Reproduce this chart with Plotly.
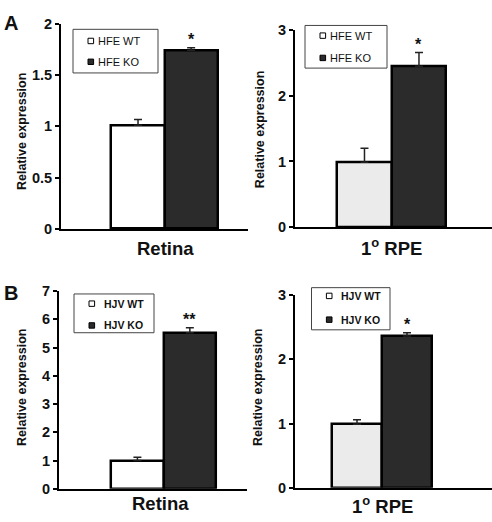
import plotly.graph_objects as go

# ---- data ----
groups = ["WT", "KO"]
hfe_retina_mean = [1.01, 1.74]
hfe_retina_err = [0.055, 0.025]
hfe_rpe_mean = [0.99, 2.45]
hfe_rpe_err = [0.21, 0.21]
hjv_retina_mean = [1.0, 5.52]
hjv_retina_err = [0.12, 0.18]
hjv_rpe_mean = [0.99, 2.36]
hjv_rpe_err = [0.07, 0.05]

hfe_labels = ["HFE WT", "HFE KO"]
hjv_labels = ["HJV WT", "HJV KO"]
sig_hfe_retina = "*"
sig_hfe_rpe = "*"
sig_hjv_retina = "**"
sig_hjv_rpe = "*"
tissue_retina = "Retina"
tissue_rpe = "1<sup>o</sup> RPE"
ytitle = "Relative expression"

W, H = 492, 522
FONT = "Arial, Liberation Sans, sans-serif"
KO_COLOR = "#2b2b2b"
TXT = "#111111"


def b(t):
    return "<b>" + t + "</b>"


def px(x):
    return x / W


def py(y):
    return 1 - y / H


panels = [
    dict(mean=hfe_retina_mean, err=hfe_retina_err, labels=hfe_labels, sig=sig_hfe_retina,
         wt="#ffffff", ax="", xdom=[0.124, 0.504], ydom=[0.5632, 0.9693],
         xr=[-1.45, 2.07], yr=[0, 2], tickvals=[0, 0.5, 1, 1.5, 2],
         ticktext=["0", "0.5", "1", "1.5", "2"],
         leg=dict(box=(73, 22, 158, 67), sq=90.8, tx=96, iy=(34, 55.5), size=11), legbold=False,
         tissue=tissue_retina, tpos=(165, 248), ypos=(22, 128)),
    dict(mean=hfe_rpe_mean, err=hfe_rpe_err, labels=hfe_labels, sig=sig_hfe_rpe,
         wt="#ebebeb", ax="2", xdom=[0.5996, 1.0], ydom=[0.567, 0.956],
         xr=[-1.275, 2.34], yr=[0, 3], tickvals=[0, 1, 2, 3],
         ticktext=["0", "1", "2", "3"],
         leg=dict(box=(305, 18, 387, 62), sq=322.8, tx=327.5, iy=(28.5, 51.5), size=11), legbold=False,
         tissue=tissue_rpe, tpos=(391, 247), ypos=(260, 126)),
    dict(mean=hjv_retina_mean, err=hjv_retina_err, labels=hjv_labels, sig=sig_hjv_retina,
         wt="#ffffff", ax="3", xdom=[0.120, 0.502], ydom=[0.0498, 0.4406],
         xr=[-1.495, 2.09], yr=[0, 7], tickvals=[0, 1, 2, 3, 4, 5, 6, 7],
         ticktext=[str(v) for v in range(8)],
         leg=dict(box=(74, 295, 154, 335), sq=91.8, tx=101.5, iy=(305, 327.5), size=10.5), legbold=True,
         tissue=tissue_retina, tpos=(160, 511), ypos=(22, 392)),
    dict(mean=hjv_rpe_mean, err=hjv_rpe_err, labels=hjv_labels, sig=sig_hjv_rpe,
         wt="#ebebeb", ax="4", xdom=[0.5996, 1.0], ydom=[0.0517, 0.433],
         xr=[-1.24, 2.7], yr=[0, 3], tickvals=[0, 1, 2, 3],
         ticktext=["0", "1", "2", "3"],
         leg=dict(box=(311.5, 288.5, 390, 332), sq=329.2, tx=338.5, iy=(297, 321.5), size=10.5), legbold=True,
         tissue=tissue_rpe, tpos=(382, 513), ypos=(258, 392)),
]

fig = go.Figure()
annotations = []
shapes = []
layout = {}

for i, p in enumerate(panels):
    xa = "x" + p["ax"]
    ya = "y" + p["ax"]
    fig.add_trace(go.Bar(
        x=[0, 1], y=p["mean"], width=1, xaxis=xa, yaxis=ya,
        marker=dict(color=[p["wt"], KO_COLOR], line=dict(color="black", width=2.5)),
        error_y=dict(type="data", symmetric=False, array=p["err"], arrayminus=[0, 0],
                     color="#222222", thickness=1.5, width=4),
        showlegend=False, hoverinfo="skip",
    ))
    layout["xaxis" + p["ax"]] = dict(
        domain=p["xdom"], range=p["xr"], anchor=ya, showline=True, linecolor="black",
        linewidth=2, showticklabels=False, ticks="", showgrid=False, zeroline=False,
        fixedrange=True)
    layout["yaxis" + p["ax"]] = dict(
        domain=p["ydom"], range=p["yr"], anchor=xa, showline=True, linecolor="black",
        linewidth=2, ticks="outside", ticklen=4, tickwidth=2, tickcolor="black",
        tickvals=p["tickvals"], ticktext=[b(t) for t in p["ticktext"]],
        showgrid=False, zeroline=False,
        tickfont=dict(family=FONT, size=14.5, color=TXT), fixedrange=True)

    # legend box (drawn as a framed key)
    lg = p["leg"]
    x0, y0, x1, y1 = lg["box"]
    shapes.append(dict(type="rect", xref="paper", yref="paper",
                       x0=px(x0), x1=px(x1), y0=py(y1), y1=py(y0),
                       line=dict(color="#444444", width=1), fillcolor="white", layer="above"))
    for lab, col, yy in zip(p["labels"], ["#ffffff", KO_COLOR], lg["iy"]):
        s = 2.8
        shapes.append(dict(type="rect", xref="paper", yref="paper",
                           x0=px(lg["sq"] - s), x1=px(lg["sq"] + s),
                           y0=py(yy + s), y1=py(yy - s),
                           line=dict(color="black", width=1), fillcolor=col, layer="above"))
        annotations.append(dict(
            xref="paper", yref="paper", x=px(lg["tx"]), y=py(yy),
            text=b(lab) if p["legbold"] else lab, showarrow=False,
            xanchor="left", yanchor="middle",
            font=dict(family=FONT, size=lg["size"], color=TXT)))

    # significance
    annotations.append(dict(
        xref=xa, yref=ya, x=1, y=p["mean"][1] + p["err"][1], text=b(p["sig"]),
        showarrow=False, yanchor="bottom", yshift=-2,
        font=dict(family=FONT, size=16, color=TXT)))
    # tissue label
    annotations.append(dict(
        xref="paper", yref="paper", x=px(p["tpos"][0]), y=py(p["tpos"][1]),
        text=b(p["tissue"]), showarrow=False, xanchor="center", yanchor="middle",
        font=dict(family=FONT, size=18.5, color=TXT)))
    # y title
    annotations.append(dict(
        xref="paper", yref="paper", x=px(p["ypos"][0]), y=py(p["ypos"][1]), text=b(ytitle),
        showarrow=False, textangle=-90, xanchor="center", yanchor="middle",
        font=dict(family=FONT, size=12.5, color=TXT)))

annotations.append(dict(xref="paper", yref="paper", x=0.004, y=0.997, text=b("A"),
                        showarrow=False, xanchor="left", yanchor="top",
                        font=dict(family=FONT, size=20, color=TXT)))
annotations.append(dict(xref="paper", yref="paper", x=0.004, y=0.462, text=b("B"),
                        showarrow=False, xanchor="left", yanchor="top",
                        font=dict(family=FONT, size=20, color=TXT)))

fig.update_layout(
    width=W, height=H, margin=dict(l=0, r=0, t=0, b=0),
    paper_bgcolor="white", plot_bgcolor="white", showlegend=False,
    annotations=annotations, shapes=shapes, bargap=0,
    font=dict(family=FONT), **layout)

fig.write_html("out.html", config={"displayModeBar": False},
               post_script="document.body.style.margin='0';document.body.style.padding='0';")
